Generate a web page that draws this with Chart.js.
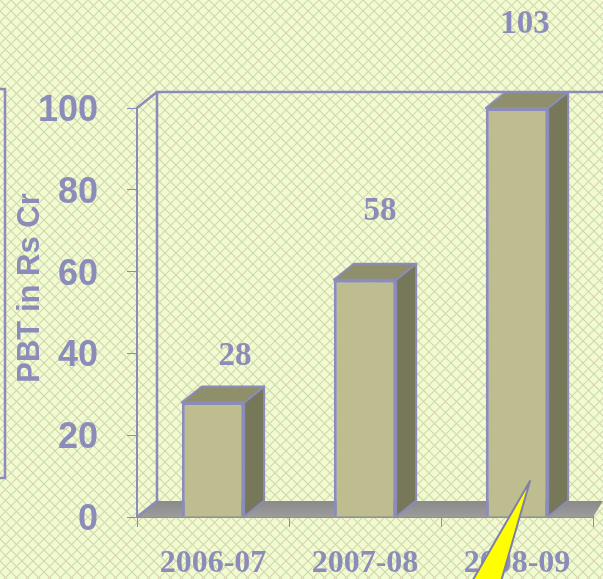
<!DOCTYPE html>
<html><head><meta charset="utf-8">
<style>html,body{margin:0;padding:0;background:#eef8cc;overflow:hidden}#w{position:relative;width:603px;height:579px}canvas{display:block;filter:blur(.45px)}</style>
<script src="https://cdn.jsdelivr.net/npm/chart.js@4"></script></head>
<body><div id="w"><canvas id="c" width="603" height="579"></canvas></div>
<script>
const categories = ["2006-07","2007-08","2008-09"];
const values = [28,58,103];
const yTicks = [0,20,40,60,80,100];
const axisMax = 100;
const axisTitle = "PBT in Rs Cr";
const labelShift = [[22,-46],[15,-68],[8,-84]];

const INK='#8c8cba', DX=20, DY=16;
function poly(ctx,pts,fill,stroke,lw){ctx.beginPath();pts.forEach((p,i)=>i?ctx.lineTo(p[0],p[1]):ctx.moveTo(p[0],p[1]));ctx.closePath();
 if(fill){ctx.fillStyle=fill;ctx.fill();} if(stroke){ctx.lineJoin='round';ctx.strokeStyle=stroke;ctx.lineWidth=lw;ctx.stroke();}}
function makePattern(ctx){
 const n=11,o=document.createElement('canvas');o.width=o.height=n;const g=o.getContext('2d');
 g.fillStyle='#f0fbd0';g.fillRect(0,0,n,n);g.lineWidth=1.1;
 g.strokeStyle='rgb(200,215,172)';g.beginPath();g.moveTo(-1,-1);g.lineTo(n+1,n+1);g.stroke();
 g.strokeStyle='rgb(222,208,178)';g.beginPath();g.moveTo(n+1,-1);g.lineTo(-1,n+1);g.stroke();
 return ctx.createPattern(o,'repeat');
}
const scene={id:'scene',
 beforeDraw(ch){const c=ch.ctx;c.save();c.fillStyle=makePattern(c);c.fillRect(0,0,ch.width,ch.height);
  c.strokeStyle=INK;c.lineWidth=2.5;c.strokeRect(-4,89,9,389);c.restore();
  ch.scales.y.getLabelItems().forEach(i=>{if(!i.moved){i.moved=true;i.options.translation[1]+=3;}});},
 beforeDatasetsDraw(ch){const c=ch.ctx,a=ch.chartArea;c.save();
  const g=c.createLinearGradient(0,a.bottom-DY,0,a.bottom);g.addColorStop(0,'#8a8a8a');g.addColorStop(1,'#9c9c9c');
  poly(c,[[a.left,a.bottom],[a.left+DX,a.bottom-DY],[ch.width+5,a.bottom-DY],[a.right+10,a.bottom-DY],[a.right,a.bottom]],g,null);
  c.strokeStyle=INK;c.lineWidth=2.5;c.beginPath();
  c.moveTo(a.left+DX,a.bottom-DY);c.lineTo(a.left+DX,a.top-DY);c.lineTo(ch.width,a.top-DY);
  c.moveTo(a.left+DX,a.top-DY);c.lineTo(a.left,a.top);
  c.moveTo(a.left,a.bottom);c.lineTo(a.left+DX,a.bottom-DY);c.stroke();
  ch.getDatasetMeta(0).data.forEach(b=>{const l=b.x-b.width/2,r=b.x+b.width/2,t=b.y,bt=b.base;
   poly(c,[[r,t],[r+DX,t-DY],[r+DX,bt-DY],[r,bt]],'#77775a',INK,2);
   poly(c,[[l,t],[l+DX,t-DY],[r+DX,t-DY],[r,t]],'#8f8f6c',INK,2);
  });
  c.restore();},
 afterDraw(ch){const c=ch.ctx;c.save();
  c.font='bold 33px "Liberation Serif"';c.fillStyle=INK;c.textAlign='center';c.textBaseline='middle';
  ch.getDatasetMeta(0).data.forEach((b,i)=>c.fillText(String(values[i]),b.x+labelShift[i][0],b.y+labelShift[i][1]));
  c.translate(30,288);c.rotate(-Math.PI/2);c.font='bold 31px "Liberation Sans"';c.fillText(axisTitle,0,0);
  c.setTransform(1,0,0,1,0,0);
  poly(c,[[530,481],[470,585],[500,585]],'#ffff00','#7f7fa8',2);
  c.restore();}
};
new Chart(document.getElementById('c'),{type:'bar',
 data:{labels:categories,datasets:[{data:values.map(v=>Math.min(v,axisMax)),backgroundColor:'#bdbd8f',borderColor:INK,borderWidth:3,barPercentage:.82,categoryPercentage:.5}]},
 plugins:[scene],
 options:{responsive:false,animation:false,layout:{padding:{top:108,right:10,left:0,bottom:0}},
  plugins:{legend:{display:false},tooltip:{enabled:false}},
  scales:{
   x:{afterFit(s){s.height=62},grid:{drawOnChartArea:false,color:INK,lineWidth:1,tickLength:10},border:{color:INK,width:2},
      ticks:{color:INK,padding:18,maxRotation:0,font:{family:'"Liberation Serif"',weight:'bold',size:32}}},
   y:{min:0,max:axisMax,afterFit(s){s.width=137},afterBuildTicks(s){s.ticks=yTicks.map(v=>({value:v}))},
      grid:{drawOnChartArea:false,color:INK,lineWidth:1,tickLength:10},border:{color:INK,width:2},
      ticks:{color:INK,padding:29,font:{family:'"Liberation Sans"',weight:'bold',size:36}}}
  }}});
</script></body></html>
